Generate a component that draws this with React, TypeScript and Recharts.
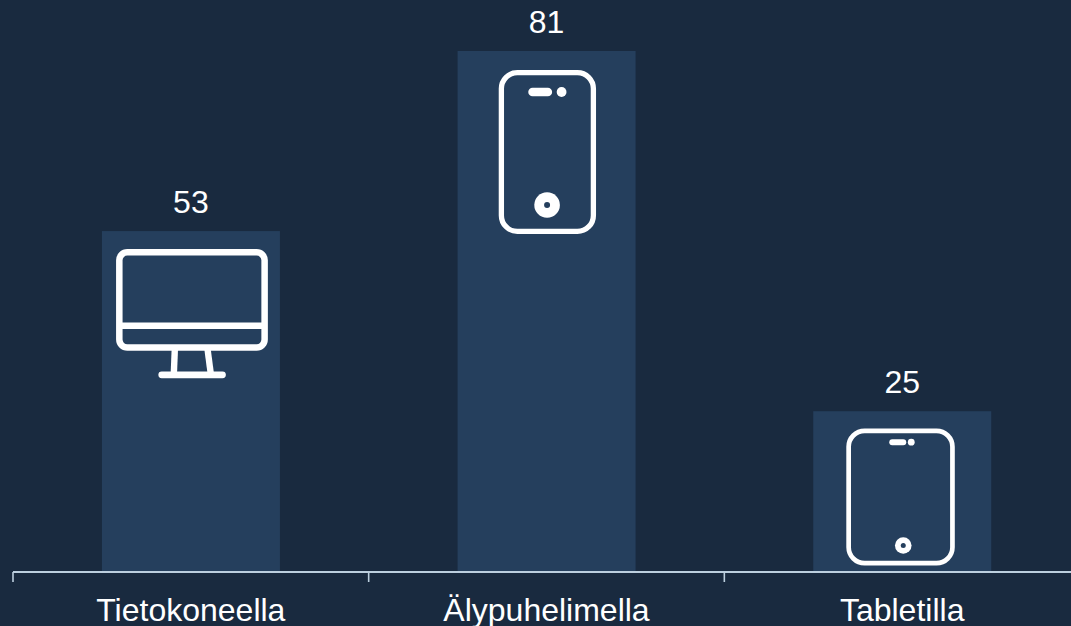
import { BarChart, Bar, XAxis, YAxis, LabelList } from "recharts";

const categories = ["Tietokoneella", "Älypuhelimella", "Tabletilla"];
const values = [53, 81, 25];
const icons = ["monitor", "phone", "tablet"];

const BG = "#192a3f";
const BAR = "#253f5d";
const AXIS = "#bccfdf";
const WHITE = "#ffffff";
const FONT = "'Liberation Sans', Arial, sans-serif";

const BAND = 1067 / categories.length;

const chartData = categories.map((name, i) => ({ name, value: values[i], icon: icons[i] }));

// icons are placed relative to the bar's top centre
function Monitor({ cx, top }: { cx: number; top: number }) {
  return (
    <g fill="none" stroke={WHITE} strokeWidth={6.5}>
      <rect x={cx - 71.6} y={top + 21.2} width={145.3} height={95.3} rx={8} />
      <line x1={cx - 71.6} x2={cx + 73.7} y1={top + 94.7} y2={top + 94.7} />
      <line x1={cx - 16.1} x2={cx - 17.1} y1={top + 118} y2={top + 143} strokeWidth={6.4} />
      <line x1={cx + 16.6} x2={cx + 19.9} y1={top + 118} y2={top + 143} strokeWidth={6.4} />
      <line x1={cx - 29.2} x2={cx + 31.6} y1={top + 143.7} y2={top + 143.7} strokeWidth={6.7} strokeLinecap="round" />
    </g>
  );
}

function Phone({ cx, top }: { cx: number; top: number }) {
  return (
    <g>
      <rect x={cx - 45.2} y={top + 21.6} width={92} height={158.8} rx={16} fill="none" stroke={WHITE} strokeWidth={5.3} />
      <line x1={cx - 14} x2={cx + 1.2} y1={top + 41} y2={top + 41} stroke={WHITE} strokeWidth={8.7} strokeLinecap="round" />
      <circle cx={cx + 15} cy={top + 41} r={4.9} fill={WHITE} />
      <circle cx={cx + 0.5} cy={top + 154} r={12.8} fill={WHITE} />
      <circle cx={cx + 0.5} cy={top + 154} r={3} fill={BAR} />
    </g>
  );
}

function Tablet({ cx, top }: { cx: number; top: number }) {
  return (
    <g>
      <rect x={cx - 53.6} y={top + 19.6} width={103.8} height={132.4} rx={16} fill="none" stroke={WHITE} strokeWidth={4.7} />
      <line x1={cx - 10} x2={cx + 1} y1={top + 31} y2={top + 31} stroke={WHITE} strokeWidth={6} strokeLinecap="round" />
      <circle cx={cx + 9} cy={top + 31} r={3.4} fill={WHITE} />
      <circle cx={cx + 1} cy={top + 134.3} r={8.3} fill={WHITE} />
      <circle cx={cx + 1} cy={top + 134.3} r={2.5} fill={BAR} />
    </g>
  );
}

function IconBar(props: any) {
  const { x, y, width, height, icon } = props;
  const cx = x + width / 2;
  return (
    <g>
      <rect x={x} y={y} width={width} height={height} fill={BAR} />
      {icon === "monitor" && <Monitor cx={cx} top={y} />}
      {icon === "phone" && <Phone cx={cx} top={y} />}
      {icon === "tablet" && <Tablet cx={cx} top={y} />}
    </g>
  );
}

// ticks sit on the band edges, labels in the middle of the band
function BandTick(props: any) {
  const { x, y, payload } = props;
  return (
    <g>
      <line x1={x - BAND / 2} x2={x - BAND / 2} y1={y - 6} y2={y + 4} stroke={AXIS} strokeWidth={1.6} />
      <text x={x} y={y + 43} textAnchor="middle" fill={WHITE} fontSize={32} fontFamily={FONT}>
        {payload.value}
      </text>
    </g>
  );
}

export default function App() {
  return (
    <div
      style={{
        position: "absolute",
        left: 0,
        top: 0,
        width: 1071,
        height: 626,
        overflow: "hidden",
        background: BG,
      }}
    >
      <BarChart
        width={1095}
        height={626}
        data={chartData}
        margin={{ top: 51, right: 15, bottom: 0, left: 13 }}
        barCategoryGap="25%"
      >
        <XAxis
          dataKey="name"
          interval={0}
          height={54}
          tickLine={false}
          tickMargin={0}
          axisLine={{ stroke: AXIS, strokeWidth: 2 }}
          tick={<BandTick />}
        />
        <YAxis hide domain={[0, 81]} />
        <Bar dataKey="value" isAnimationActive={false} shape={<IconBar />}>
          <LabelList
            dataKey="value"
            position="top"
            offset={18}
            fill={WHITE}
            fontSize={32}
            fontFamily={FONT}
          />
        </Bar>
      </BarChart>
    </div>
  );
}
